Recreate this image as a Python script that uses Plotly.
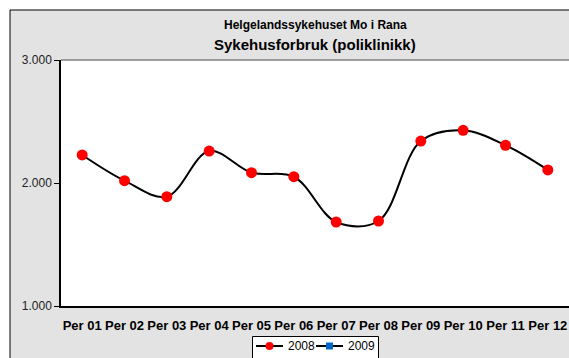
import plotly.graph_objects as go

# Periods and monthly hospital use (outpatient), per year
periods = ["Per 01", "Per 02", "Per 03", "Per 04", "Per 05", "Per 06",
           "Per 07", "Per 08", "Per 09", "Per 10", "Per 11", "Per 12"]
values_2008 = [2228, 2019, 1889, 2260, 2084, 2051, 1683, 1691, 2341, 2428, 2307, 2106]
values_2009 = [None] * 12  # no data registered yet

y_ticks = [1000, 2000, 3000]

FONT = "Liberation Sans, Arial, Helvetica, sans-serif"
W, H = 569, 358
L, R, T, B = 61, 0, 60, 52
plot_w = W - L - R
plot_h = H - T - B

COLOR_2008 = "#ff0000"
COLOR_2009 = "#0066cc"


def px_x(x):
    return (x - L) / plot_w


def px_y(y):
    return (H - B - y) / plot_h


fig = go.Figure()
fig.add_trace(go.Scatter(
    x=periods, y=values_2008, name="2008", mode="lines+markers",
    line=dict(color="black", width=2, shape="spline", smoothing=1),
    marker=dict(color=COLOR_2008, size=11, symbol="circle"),
))
fig.add_trace(go.Scatter(
    x=periods, y=values_2009, name="2009", mode="lines+markers",
    line=dict(color="black", width=2, shape="spline", smoothing=1),
    marker=dict(color=COLOR_2009, size=8, symbol="square"),
))

# grey chart frame with black border
fig.add_shape(type="rect", xref="paper", yref="paper",
              x0=px_x(10), x1=px_x(W + 5), y0=px_y(10), y1=px_y(H + 5),
              fillcolor="#e3e3e3", line=dict(color="black", width=1),
              layer="below")
# white plot area
fig.add_shape(type="rect", xref="paper", yref="paper",
              x0=0, x1=1.01, y0=0, y1=1,
              fillcolor="white", line=dict(width=0),
              layer="below")
# grey top edge of plot area
fig.add_shape(type="line", xref="paper", yref="paper",
              x0=0, x1=1.01, y0=1, y1=1,
              line=dict(color="#808080", width=1.5))

# legend box below the category labels
LEG_Y = 346
fig.add_shape(type="rect", xref="paper", yref="paper",
              x0=px_x(252.5), x1=px_x(378.5), y0=px_y(336.5), y1=px_y(H + 5),
              fillcolor="white", line=dict(color="black", width=1))
legend_items = [("2008", COLOR_2008, "circle", 256), ("2009", COLOR_2009, "square", 316)]
for label, color, sym, x0 in legend_items:
    fig.add_shape(type="line", xref="paper", yref="paper",
                  x0=px_x(x0), x1=px_x(x0 + 27), y0=px_y(LEG_Y), y1=px_y(LEG_Y),
                  line=dict(color="black", width=2))
    cx = x0 + 13.5
    r = 4 if sym == "circle" else 3.5
    fig.add_shape(type="circle" if sym == "circle" else "rect",
                  xref="paper", yref="paper",
                  x0=px_x(cx - r), x1=px_x(cx + r),
                  y0=px_y(LEG_Y - r), y1=px_y(LEG_Y + r),
                  fillcolor=color, line=dict(width=0))
    fig.add_annotation(text=label, xref="paper", yref="paper",
                       x=px_x(x0 + 30), y=px_y(LEG_Y), showarrow=False,
                       xanchor="left", yanchor="middle",
                       font=dict(size=12, color="black", family=FONT))

fig.add_annotation(text="<b>Helgelandssykehuset Mo i Rana</b>",
                   xref="paper", yref="paper", x=0.5, y=px_y(25),
                   showarrow=False, font=dict(size=12, color="black", family=FONT),
                   xanchor="center", yanchor="middle")
fig.add_annotation(text="<b>Sykehusforbruk (poliklinikk)</b>",
                   xref="paper", yref="paper", x=0.5, y=px_y(45),
                   showarrow=False, font=dict(size=15, color="black", family=FONT),
                   xanchor="center", yanchor="middle")

fig.update_layout(
    width=W, height=H,
    margin=dict(l=L, r=R, t=T, b=B, pad=0, autoexpand=False),
    paper_bgcolor="white",
    plot_bgcolor="white",
    separators=",.",
    font=dict(family=FONT, size=12, color="black"),
    showlegend=False,
    xaxis=dict(
        type="category", categoryorder="array", categoryarray=periods,
        range=[-0.5, 11.5], automargin=False,
        showgrid=False, zeroline=False,
        showline=True, linecolor="black", linewidth=1.5,
        ticks="", tickfont=dict(size=13, family=FONT, color="black", weight="bold"),
        ticklabelstandoff=7,
    ),
    yaxis=dict(
        range=[1000, 3000], tickvals=y_ticks, tickformat=",.0f", automargin=False,
        showgrid=False, zeroline=False,
        showline=True, linecolor="black", linewidth=1.5,
        ticks="outside", ticklen=5, tickcolor="black", tickwidth=1,
        tickfont=dict(size=12, family=FONT, color="#222222"),
    ),
)

fig.write_html("out.html")
